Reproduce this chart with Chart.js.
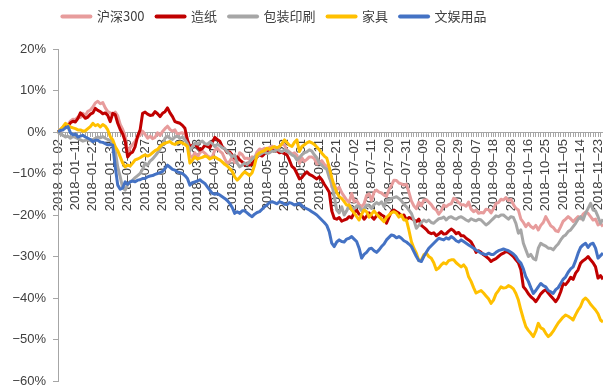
<!DOCTYPE html>
<html>
<head>
<meta charset="utf-8">
<script src="https://cdn.jsdelivr.net/npm/chart.js@4.4.0/dist/chart.umd.min.js"></script>
<style>
  html, body { margin: 0; padding: 0; background: #fff; }
  #wrap { width: 603px; height: 389px; }
</style>
</head>
<body>
<div id="wrap"><canvas id="chart" width="603" height="389"></canvas></div>
<script>
// 2018 A-share trading calendar: weekdays minus exchange holidays
const firstDay = '2018-01-02';
const dayCount = 220;
const holidays = [
    '2018-02-15', '2018-02-16', '2018-02-19', '2018-02-20', '2018-02-21',
    '2018-04-05', '2018-04-06', '2018-04-30', '2018-05-01', '2018-06-18',
    '2018-09-24', '2018-10-01', '2018-10-02', '2018-10-03', '2018-10-04', '2018-10-05'
];
const labelEvery = 7;

const seriesNames = ['沪深300', '造纸', '包装印刷', '家具', '文娱用品'];
const seriesColors = ['#E79C9C', '#C00000', '#A6A6A6', '#FFC000', '#4472C4'];

// cumulative return, %
const hs300 = [
    0, 0.6, 1.0, 1.2, 1.8, 2.6, 3.1,
    3.0, 3.6, 3.5, 4.5, 4.0, 5.0, 5.3,
    6.0, 7.0, 7.4, 6.8, 7.1, 5.8, 4.9,
    4.6, 4.3, 4.8, 3.9, 1.8, 0.6, -1.0,
    -5.0, -3.8, -3.0, -2.2, -1.2, -0.8, 0.2,
    -0.6, -1.5, -1.0, -1.6, -1.3, -0.2, -0.8,
    0.1, 0.8, 1.4, 0.6, 0.2, 0.5, -0.6,
    -0.3, -0.2, -0.6, -2.0, -5.6, -6.2, -5.0,
    -6.1, -5.0, -4.6, -5.1, -5.7, -6.1, -6.0,
    -4.4, -3.9, -4.6, -5.1, -6.4, -7.6, -7.1,
    -6.0, -7.4, -7.0, -5.0, -5.4, -6.4, -6.3,
    -6.6, -6.0, -6.3, -4.8, -4.1, -4.3, -3.9,
    -4.3, -3.7, -3.4, -4.0, -4.5, -3.5, -2.9,
    -3.2, -4.3, -4.8, -5.3, -5.0, -5.6, -7.6,
    -6.2, -7.1, -6.6, -6.0, -6.0, -6.4, -7.7,
    -7.6, -6.9, -7.8, -8.3, -9.5, -13.2, -12.6,
    -14.0, -13.3, -14.6, -15.5, -16.4, -17.0, -14.8,
    -16.8, -16.5, -17.5, -18.0, -17.3, -15.3, -14.9,
    -16.5, -14.5, -14.0, -14.5, -14.7, -15.2, -15.5,
    -13.9, -12.9, -11.6, -11.7, -12.3, -12.5, -12.8,
    -12.6, -14.5, -16.6, -17.8, -18.5, -16.9, -17.8,
    -16.4, -16.3, -16.9, -17.5, -18.4, -18.8, -19.8,
    -19.0, -17.6, -18.0, -17.5, -17.3, -16.0, -16.3,
    -17.0, -17.6, -17.5, -17.9, -16.9, -18.6, -19.2,
    -18.8, -19.6, -19.4, -19.5, -18.6, -18.7, -19.5,
    -18.5, -17.2, -17.0, -16.2, -16.4, -15.8, -16.5,
    -16.2, -17.5, -18.4, -18.8, -21.0, -21.8, -22.8,
    -22.0, -22.8, -23.2, -22.5, -23.6, -22.5, -21.8,
    -20.4, -21.5, -22.6, -23.0, -23.8, -24.0, -22.8,
    -21.5, -21.0, -20.4, -20.9, -21.6, -21.0, -20.4,
    -20.9, -19.8, -19.3, -19.6, -20.4, -21.2, -21.0,
    -22.4, -22.0, -22.8
];

const paper = [
    0, 0.4, 1.0, 1.6, 1.4, 2.2, 2.6,
    2.4, 3.3, 4.6, 4.0, 3.3, 3.6, 4.3,
    4.6, 5.7, 5.2, 4.9, 4.4, 4.6, 4.0,
    2.5, 4.5, 4.2, 2.1, 0.6, -0.5, -2.2,
    -6.0, -5.2, -4.8, -3.5, -1.0, 0.5, 4.5,
    4.8, 4.3, 4.0, 4.1, 4.9, 4.4, 3.7,
    4.5, 4.9, 5.8, 4.6, 3.7, 2.5, 2.3,
    2.1, 1.6, 0.9, -1.9, -3.5, -3.2, -3.0,
    -3.6, -4.3, -4.0, -3.2, -3.5, -3.8, -2.5,
    -1.3, -1.8, -2.2, -3.5, -4.1, -5.0, -4.8,
    -5.6, -6.3, -6.0, -6.7, -7.2, -8.0, -7.5,
    -8.0, -7.8, -6.8, -6.0, -5.5, -5.8, -5.2,
    -5.0, -4.6, -4.3, -4.7, -4.5, -5.0, -4.9,
    -5.2, -5.5, -6.8, -8.3, -8.8, -10.0, -11.3,
    -11.0, -10.2, -9.6, -10.2, -10.5, -10.9, -11.3,
    -10.8, -11.5, -12.6, -13.5, -14.5, -19.0, -20.8,
    -21.0, -20.6, -21.5, -21.2, -21.0, -20.4, -20.7,
    -19.5, -18.8, -19.8, -20.0, -21.0, -20.3, -19.5,
    -20.4, -21.0, -20.2, -19.5, -20.0, -20.3, -22.0,
    -20.5, -19.2, -18.8, -19.2, -19.6, -20.2, -20.0,
    -21.2, -20.6, -20.8, -21.2, -21.6, -21.0, -22.5,
    -23.0, -23.5, -24.2, -24.5, -24.3, -25.0, -24.6,
    -24.0, -24.6, -24.5, -23.9, -23.4, -23.8, -24.5,
    -24.2, -25.0, -25.0, -25.6, -26.0, -26.5, -27.6,
    -29.0, -28.6, -29.0, -29.6, -30.0, -30.5, -31.2,
    -30.8, -30.5, -30.0, -29.5, -29.2, -28.8, -29.0,
    -29.5, -30.0, -30.8, -31.5, -33.2, -37.3, -38.0,
    -39.0, -39.7, -40.2, -40.9, -40.0, -39.0, -38.4,
    -38.0, -38.8, -39.5, -40.2, -40.9, -40.0, -38.5,
    -36.5, -36.8, -36.0, -35.0, -35.5, -34.0, -33.2,
    -31.6, -31.0, -30.6, -30.0, -30.8, -31.5, -32.5,
    -35.2, -34.6, -35.5
];

const packaging = [
    0, -0.5, -0.8, -1.2, -1.0, -1.5, -1.1,
    -1.3, -1.6, -1.9, -2.2, -2.0, -1.8, -2.1,
    -1.8, -1.5, -1.2, -1.4, -1.1, -1.5, -1.8,
    -2.0, -2.7, -4.5, -8.4, -10.8, -13.5, -14.0,
    -12.6, -12.0, -11.6, -11.0, -10.5, -10.0, -9.0,
    -7.5, -8.0, -7.0, -6.5, -5.8, -5.0, -4.2,
    -3.0, -1.5, -1.0, -1.5, -1.8, -1.2, -1.0,
    -1.5, -1.2, -1.9, -2.8, -4.5, -3.5, -2.7,
    -2.9, -2.5, -2.2, -2.8, -3.0, -2.4, -2.8,
    -3.5, -3.0, -3.3, -3.8, -4.0, -4.8, -5.2,
    -6.0, -5.5, -7.5, -8.4, -8.0, -7.5, -7.8,
    -7.2, -6.5, -6.0, -5.8, -5.5, -5.1, -4.8,
    -5.2, -5.0, -4.6, -4.7, -4.2, -4.5, -4.8,
    -4.3, -4.5, -5.0, -5.5, -5.8, -6.7, -6.2,
    -5.5, -5.0, -4.8, -4.3, -4.6, -5.5, -6.2,
    -7.5, -8.0, -8.6, -9.0, -11.0, -12.4, -15.5,
    -18.8, -19.5, -18.0, -20.0, -19.0, -17.6, -18.2,
    -18.5, -17.8, -18.0, -19.0, -18.5, -17.6, -17.8,
    -18.4, -17.5, -17.0, -17.4, -16.8, -18.0, -16.4,
    -16.4, -16.0, -15.8, -15.6, -16.0, -16.6, -17.4,
    -18.0, -18.8, -19.6, -21.2, -23.2, -22.5, -21.8,
    -21.2, -21.6, -21.2, -21.8, -22.0, -21.4, -20.9,
    -20.8, -20.5, -21.2, -20.6, -20.4, -20.8, -21.0,
    -20.6, -20.4, -20.8, -21.2, -21.5, -20.9, -21.2,
    -21.4, -21.0, -21.2, -21.8, -22.4, -22.0, -21.4,
    -20.8, -20.2, -20.4, -20.0, -20.0, -20.5, -21.0,
    -20.4, -20.6, -22.0, -24.4, -23.6, -26.8, -28.4,
    -30.0, -29.5, -30.5, -30.8, -28.0, -26.8, -27.2,
    -27.5, -28.0, -28.0, -28.4, -27.6, -27.0, -26.0,
    -25.2, -24.8, -24.0, -23.6, -22.8, -22.0, -21.0,
    -20.4, -21.2, -19.6, -18.4, -17.2, -18.8, -19.0,
    -20.4, -22.0, -21.0
];

const furniture = [
    0, 0.6, 1.3, 2.1, 1.6, 1.2, 1.0,
    0.8, 0.5, 0.5, 0.2, 0.3, 0.8, 1.3,
    2.1, 1.5, 1.8, 1.2, 1.8, 1.4, 0.5,
    -1.1, -1.9, -3.5, -4.5, -6.0, -7.5, -8.4,
    -8.0, -8.2, -7.5, -6.7, -6.5, -6.2, -5.8,
    -5.5, -5.8, -5.5, -5.0, -4.5, -4.2, -3.5,
    -3.0, -2.7, -2.5, -2.3, -2.8, -3.0, -2.6,
    -2.4, -2.7, -3.0, -3.5, -7.5, -6.8, -6.0,
    -6.5, -6.3, -6.1, -5.8, -6.0, -6.5, -6.2,
    -6.0, -6.4, -6.7, -7.2, -7.8, -8.2, -8.8,
    -9.5, -10.8, -11.6, -11.0, -10.2, -9.6, -10.0,
    -10.5, -9.8, -8.0, -5.5, -5.0, -4.7, -4.5,
    -3.9, -4.2, -3.8, -3.5, -3.8, -3.5, -2.8,
    -1.9, -2.5, -3.2, -3.5, -2.5, -1.9, -4.7,
    -3.5, -3.1, -2.6, -2.3, -2.6, -3.0, -3.6,
    -4.3, -5.1, -5.8, -6.3, -8.5, -11.0, -13.0,
    -14.5, -15.6, -16.0, -16.8, -17.6, -17.6, -18.8,
    -19.5, -20.4, -21.2, -19.8, -18.8, -19.2, -20.5,
    -19.8, -19.0, -19.8, -20.4, -21.0, -21.6, -20.6,
    -20.0, -19.5, -19.2, -19.6, -20.5, -20.0, -21.2,
    -21.2, -23.6, -26.4, -28.0, -29.2, -31.0, -30.8,
    -29.6, -29.2, -30.0, -30.4, -31.5, -33.2, -32.8,
    -32.0, -31.5, -31.8, -31.0, -30.8, -30.8, -31.5,
    -32.0, -32.5, -32.0, -32.8, -34.9, -36.0, -37.5,
    -38.8, -38.5, -38.2, -38.8, -39.5, -40.2, -41.3,
    -40.5, -39.0, -38.2, -37.3, -37.6, -37.5, -37.0,
    -37.3, -37.8, -38.9, -40.5, -42.9, -45.0, -46.9,
    -47.8, -48.5, -49.3, -48.0, -46.1, -47.2, -47.5,
    -48.5, -49.3, -48.8, -48.0, -47.0, -46.0, -45.3,
    -44.6, -44.1, -44.4, -44.8, -45.3, -44.0, -42.9,
    -42.0, -40.5, -40.0, -40.6, -41.5, -42.2, -42.9,
    -43.8, -45.3, -45.8
];

const stationery = [
    0, 0.4, 0.5, 1.0, 1.3, -0.2, -0.7,
    -0.5, -1.2, -1.0, -0.8, -1.2, -1.5, -1.8,
    -2.3, -2.0, -2.0, -2.4, -2.5, -2.8, -3.1,
    -3.0, -3.2, -8.4, -12.8, -13.8, -13.5, -12.0,
    -12.6, -12.0, -11.8, -12.0, -11.6, -11.5, -11.2,
    -11.2, -10.8, -10.6, -10.5, -10.2, -10.0, -9.8,
    -9.5, -8.8, -8.0, -8.5, -9.0, -9.2, -9.6,
    -9.8, -10.0, -10.5, -11.2, -12.8, -12.2, -12.0,
    -11.8, -11.5, -12.0, -12.4, -13.2, -14.0, -14.8,
    -15.0, -14.8, -15.2, -15.6, -16.0, -16.5, -17.2,
    -18.2, -19.6, -19.2, -19.6, -19.0, -19.0, -19.5,
    -20.0, -20.4, -19.8, -19.4, -19.2, -18.6, -18.0,
    -17.6, -17.0, -16.8, -17.0, -17.3, -16.8, -17.0,
    -17.4, -17.5, -17.0, -17.2, -17.6, -17.4, -17.2,
    -17.8, -18.2, -18.5, -18.8, -19.2, -19.6, -20.0,
    -20.6, -21.2, -21.8, -22.5, -24.0, -26.8, -27.6,
    -26.5, -26.0, -26.4, -26.5, -25.8, -25.6, -25.2,
    -25.8, -26.4, -28.0, -30.4, -29.5, -29.0, -28.2,
    -28.0, -28.6, -29.0, -28.4, -27.6, -27.0, -26.0,
    -25.4, -24.8, -25.0, -25.5, -25.2, -25.6, -26.2,
    -26.5, -27.0, -27.6, -28.8, -30.0, -31.0, -31.2,
    -30.0, -29.0, -28.0, -27.4, -26.8, -26.2, -25.6,
    -25.8, -26.0, -25.5, -25.8, -25.2, -25.6, -26.2,
    -26.5, -26.0, -26.4, -26.8, -27.2, -27.6, -28.0,
    -28.5, -28.8, -29.2, -29.4, -29.6, -29.2, -29.5,
    -29.5, -29.0, -28.6, -28.4, -28.2, -28.4, -28.6,
    -29.0, -29.4, -30.0, -31.0, -31.6, -33.0, -34.9,
    -36.0, -37.5, -38.9, -38.2, -37.3, -36.5, -37.0,
    -37.3, -38.2, -38.5, -38.9, -38.0, -37.5, -36.5,
    -35.5, -34.9, -33.8, -33.0, -32.5, -31.0, -29.2,
    -27.8, -27.2, -26.8, -27.8, -27.0, -26.8, -28.0,
    -30.4, -29.8, -29.2
];

const yTicks = { min: -60, max: 20, step: 10 };

function tradingDays(start, count) {
    const out = [];
    const d = new Date(start + 'T00:00:00Z');
    while (out.length < count) {
        const iso = d.toISOString().slice(0, 10);
        const wd = d.getUTCDay();
        if (wd !== 0 && wd !== 6 && holidays.indexOf(iso) === -1) {
            out.push(iso);
        }
        d.setUTCDate(d.getUTCDate() + 1);
    }
    return out;
}

const dates = tradingDays(firstDay, dayCount);
const allSeries = [hs300, paper, packaging, furniture, stationery];

const axisGrey = '#A6A6A6';
const textGrey = '#404040';

// the y-axis padding pushes the legend down; pull it back to the top
// and nudge it a little left of centre
const legendShift = {
    id: 'legendShift',
    afterLayout(chart) {
        const lg = chart.legend;
        if (!lg) return;
        const dy = lg.top + 2;
        lg.top -= dy;
        lg.bottom -= dy;
        lg.left -= 27;
        lg.right -= 27;
    }
};

const ctx = document.getElementById('chart').getContext('2d');
new Chart(ctx, {
    type: 'line',
    data: {
        labels: dates,
        datasets: seriesNames.map(function(name, i) {
            return {
                label: name,
                data: allSeries[i],
                borderColor: seriesColors[i],
                backgroundColor: seriesColors[i],
                borderWidth: 3,
                pointRadius: 0,
                tension: 0,
                borderJoinStyle: 'round',
                fill: false,
                // later series sit on top
                order: seriesNames.length - i
            };
        })
    },
    options: {
        responsive: false,
        animation: false,
        devicePixelRatio: 1,
        layout: { padding: 0 },
        plugins: {
            tooltip: { enabled: false },
            legend: {
                position: 'top',
                labels: {
                    usePointStyle: true,
                    pointStyleWidth: 28,
                    padding: 12,
                    color: textGrey,
                    font: { family: "'Noto Sans CJK SC', sans-serif", size: 13 },
                    sort: function(a, b) { return a.datasetIndex - b.datasetIndex; },
                    generateLabels: function(chart) {
                        const base = Chart.defaults.plugins.legend.labels.generateLabels(chart);
                        return base.map(function(item) {
                            item.pointStyle = 'line';
                            item.lineWidth = 4;
                            item.lineCap = 'round';
                            return item;
                        });
                    }
                }
            }
        },
        scales: {
            x: {
                type: 'category',
                position: { y: 0 },
                offset: false,
                grid: {
                    drawOnChartArea: false,
                    drawTicks: true,
                    tickLength: 4,
                    color: axisGrey
                },
                border: { color: axisGrey, width: 1 },
                ticks: {
                    autoSkip: false,
                    minRotation: 90,
                    maxRotation: 90,
                    padding: 3,
                    color: textGrey,
                    font: { family: "'Liberation Sans', Arial, sans-serif", size: 13 },
                    callback: function(value, index) {
                        if (index % labelEvery !== 0) return '';
                        return this.getLabelForValue(value).replace(/-/g, '–');
                    }
                },
                afterFit: function(scale) {
                    scale.paddingLeft = 0;
                    scale.paddingRight = 0;
                }
            },
            y: {
                position: 'left',
                min: yTicks.min,
                max: yTicks.max,
                grid: {
                    drawOnChartArea: false,
                    drawTicks: true,
                    tickLength: 5,
                    color: axisGrey
                },
                border: { color: axisGrey, width: 1 },
                ticks: {
                    stepSize: yTicks.step,
                    padding: 7,
                    color: textGrey,
                    font: { family: "'Liberation Sans', Arial, sans-serif", size: 13 },
                    callback: function(v) {
                        return (v < 0 ? '−' + Math.abs(v) : v) + '%';
                    }
                },
                afterFit: function(scale) {
                    scale.width = 58;
                    scale.paddingTop = 49;
                    scale.paddingBottom = 8;
                }
            }
        }
    },
    plugins: [legendShift]
});
</script>
</body>
</html>
